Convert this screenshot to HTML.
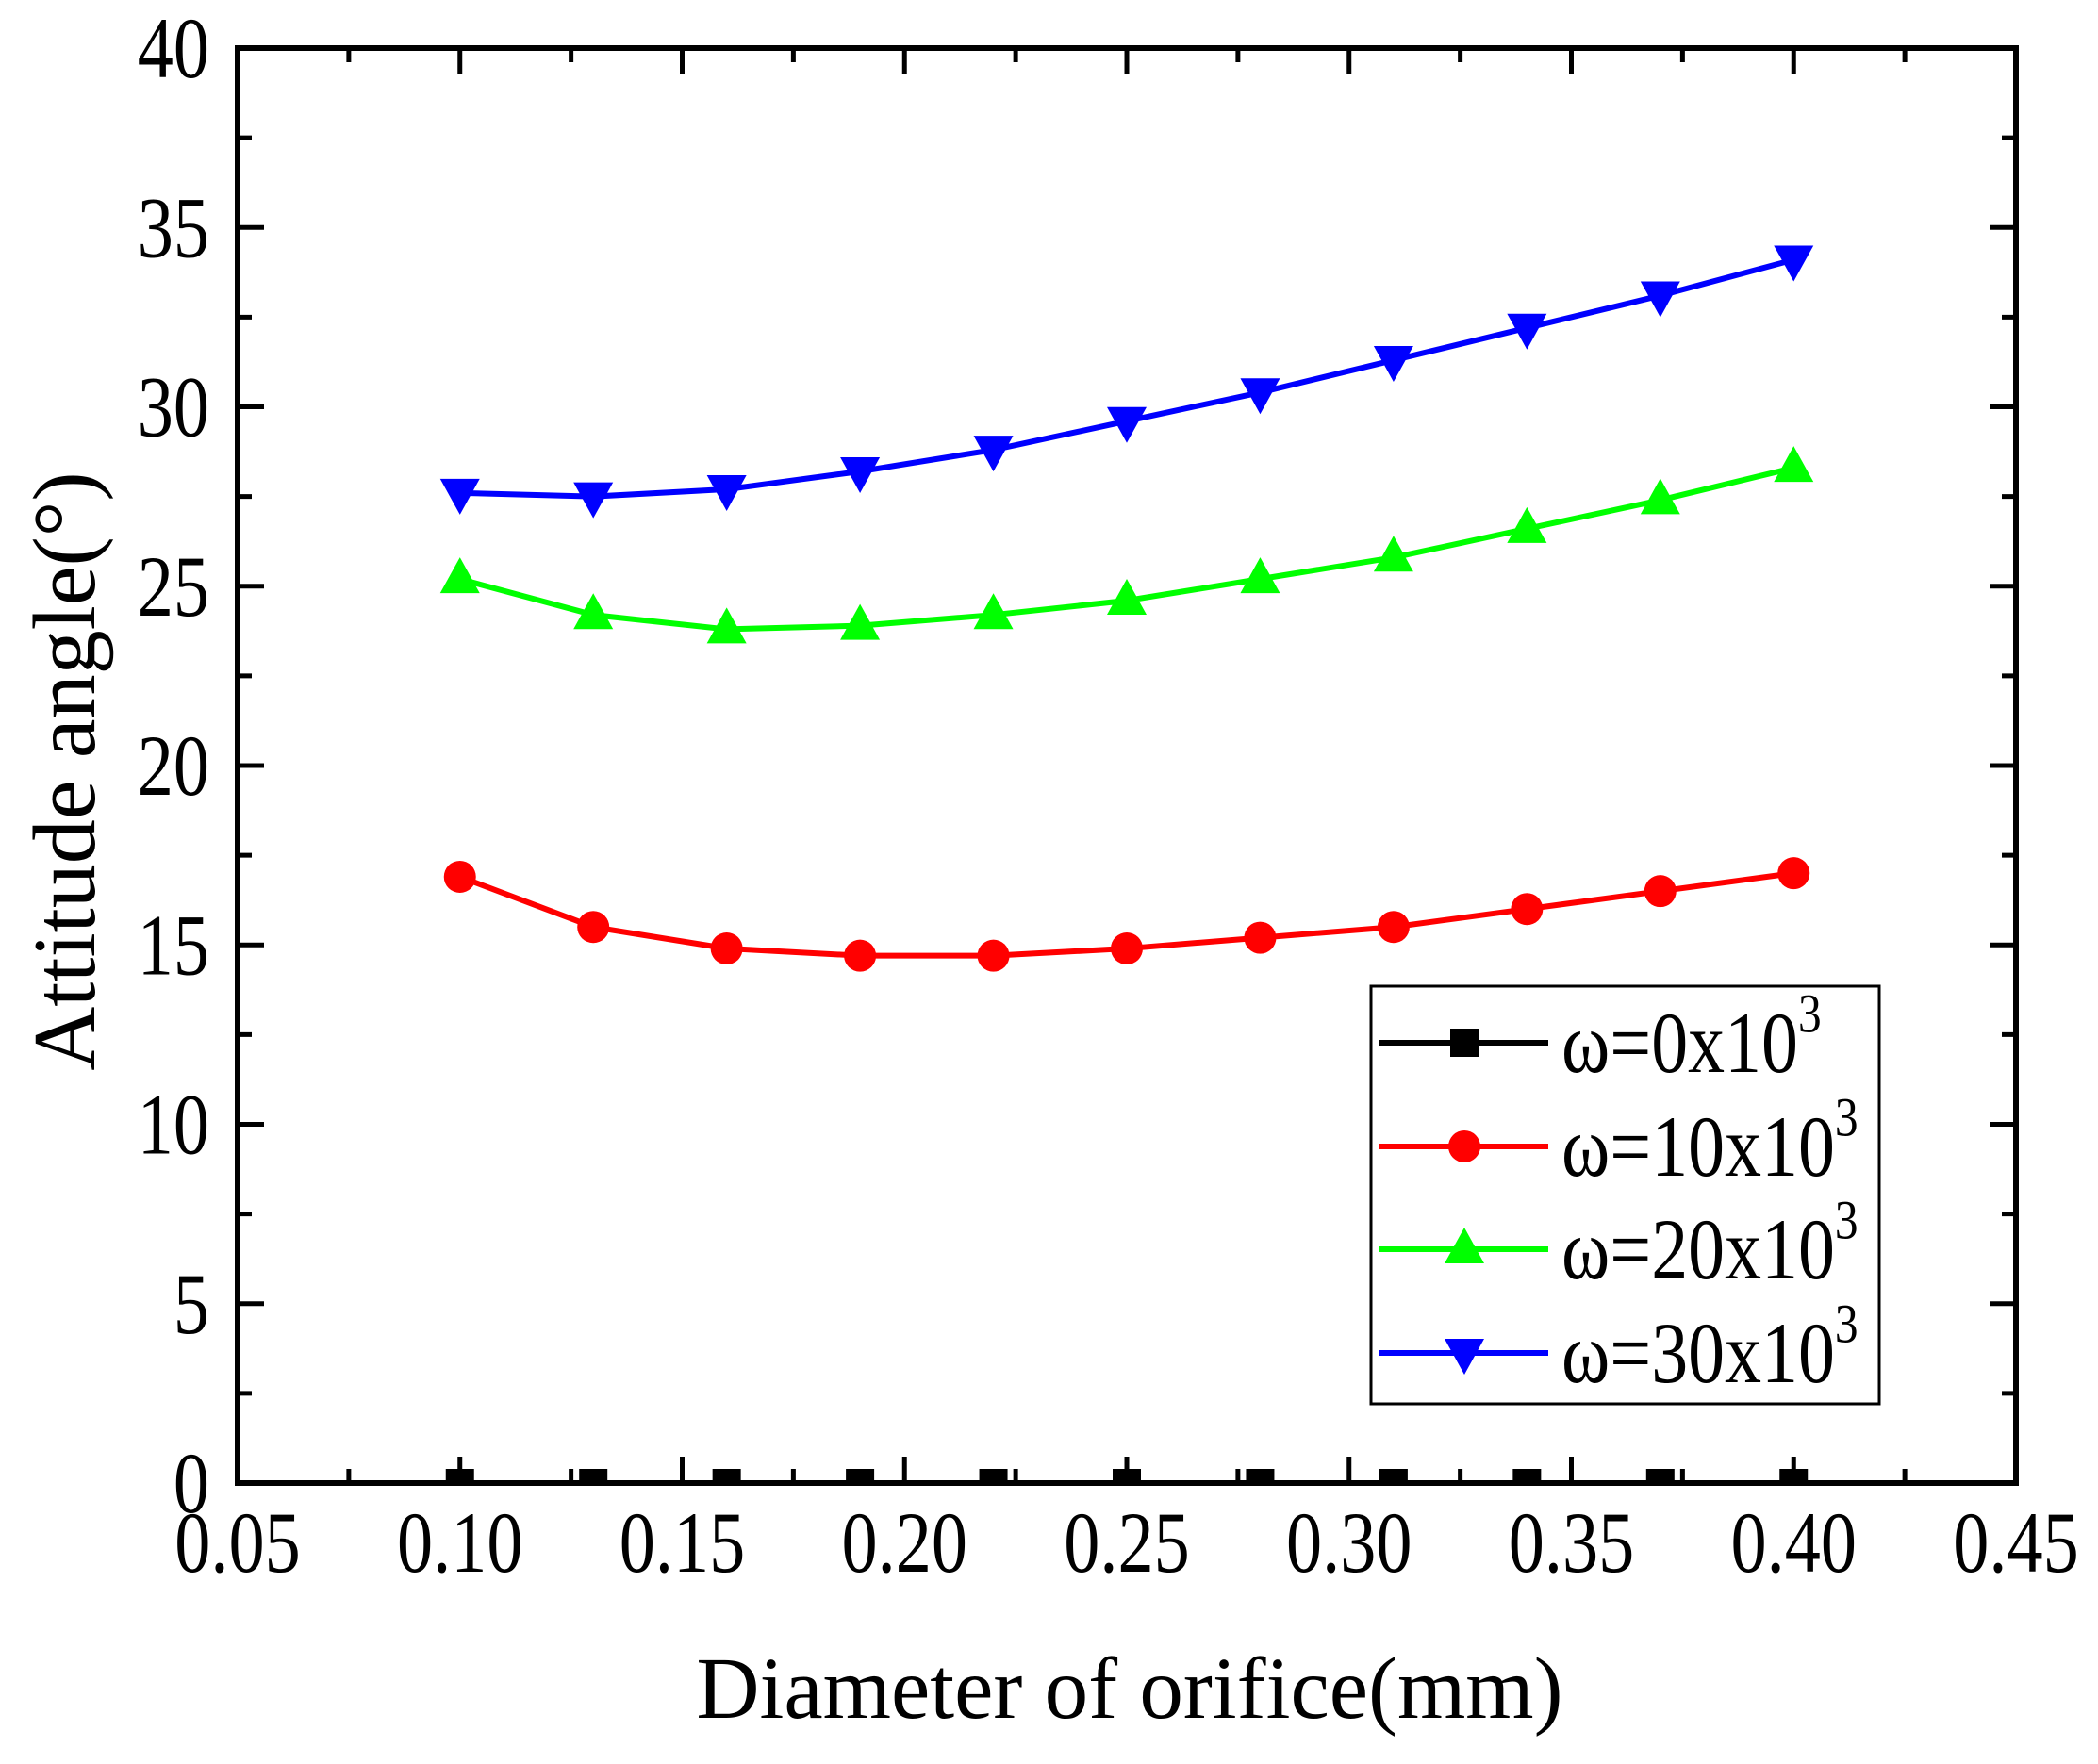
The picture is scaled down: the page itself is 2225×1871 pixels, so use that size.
<!DOCTYPE html>
<html><head><meta charset="utf-8"><style>
html,body{margin:0;padding:0;background:#fff;}
svg text{font-family:"Liberation Serif",serif;fill:#000;}
</style></head><body>
<svg id="chart" width="2225" height="1866" viewBox="0 0 2225 1866" xmlns="http://www.w3.org/2000/svg">
<defs><clipPath id="pc"><rect x="252" y="51" width="1886" height="1522"/></clipPath></defs>
<g id="plot"></g>
</svg>
<script>
const xValues=[0.10,0.13,0.16,0.19,0.22,0.25,0.28,0.31,0.34,0.37,0.40];
const seriesW0=[0,0,0,0,0,0,0,0,0,0,0];
const seriesW10=[16.9,15.5,14.9,14.7,14.7,14.9,15.2,15.5,16.0,16.5,17.0];
const seriesW20=[25.2,24.2,23.8,23.9,24.2,24.6,25.2,25.8,26.6,27.4,28.3];
const seriesW30=[27.6,27.5,27.7,28.2,28.8,29.6,30.4,31.3,32.2,33.1,34.1];
const xTicks=[0.05,0.10,0.15,0.20,0.25,0.30,0.35,0.40,0.45];
const xTickLabels=["0.05","0.10","0.15","0.20","0.25","0.30","0.35","0.40","0.45"];
const yTicks=[0,5,10,15,20,25,30,35,40];
const yTickLabels=["0","5","10","15","20","25","30","35","40"];
const legendLabels=["0","10","20","30"];

const L=252,R=2138,T=51,B=1573;
const xs=v=>L+(v-0.05)/(0.40)*(R-L);
const ys=v=>B-(v/40)*(B-T);
const NS="http://www.w3.org/2000/svg";
const g=document.getElementById('plot');
function mk(tag,attrs,parent){const e=document.createElementNS(NS,tag);for(const k in attrs)e.setAttribute(k,attrs[k]);(parent||g).appendChild(e);return e;}
function stretchedText(x,y,size,anchor,str,parent){
  const gg=mk('g',{transform:`translate(${x},${y}) scale(0.93,1.12)`},parent);
  const t=mk('text',{x:0,y:0,'font-size':size,'text-anchor':anchor},gg);
  t.textContent=str;
  return t;
}

xTicks.forEach((v,i)=>{
  const x=xs(v);
  let t=mk('line',{x1:x,x2:x,y1:B,y2:B-28,stroke:'#000','stroke-width':5});
  
  
  mk('line',{x1:x,x2:x,y1:T,y2:T+28,stroke:'#000','stroke-width':5});
  if(i<xTicks.length-1){const xm=xs(v+0.025);
    mk('line',{x1:xm,x2:xm,y1:B,y2:B-15,stroke:'#000','stroke-width':5});
    mk('line',{x1:xm,x2:xm,y1:T,y2:T+15,stroke:'#000','stroke-width':5});}
  const tx=stretchedText(x,1667,82,'middle',xTickLabels[i]);
  
  
});
yTicks.forEach((v,i)=>{
  const y=ys(v);
  let t=mk('line',{x1:L,x2:L+28,y1:y,y2:y,stroke:'#000','stroke-width':5});
  
  
  mk('line',{x1:R,x2:R-28,y1:y,y2:y,stroke:'#000','stroke-width':5});
  if(i<yTicks.length-1){const ym=ys(v+2.5);
    mk('line',{x1:L,x2:L+15,y1:ym,y2:ym,stroke:'#000','stroke-width':5});
    mk('line',{x1:R,x2:R-15,y1:ym,y2:ym,stroke:'#000','stroke-width':5});}
  const tx=stretchedText(222,y+31,82,'end',yTickLabels[i]);
  
  
});

function marker(type,x,y,color,parent){
  if(type==='sq') return mk('rect',{x:x-15,y:y-15,width:30,height:30,fill:color},parent);
  if(type==='ci') return mk('circle',{cx:x,cy:y,r:17,fill:color},parent);
  if(type==='up') return mk('polygon',{points:`${x},${y-23} ${x-21},${y+15} ${x+21},${y+15}`,fill:color},parent);
  return mk('polygon',{points:`${x-21},${y-15} ${x+21},${y-15} ${x},${y+23}`,fill:color},parent);
}
const series=[[seriesW0,'#000','sq','series-w0'],[seriesW10,'#f00','ci','series-w10'],[seriesW20,'#0f0','up','series-w20'],[seriesW30,'#00f','dn','series-w30']];
series.forEach(([vals,color,type,name])=>{
  const sg=mk('g',{'clip-path':'url(#pc)'});
  
  
  const pts=vals.map((v,i)=>xs(xValues[i])+','+ys(v)).join(' ');
  mk('polyline',{points:pts,fill:'none',stroke:color,'stroke-width':6},sg);
  vals.forEach((v,i)=>{const m=marker(type,xs(xValues[i]),ys(v),color,sg);
    
    });
});
const frame=mk('rect',{x:L,y:T,width:R-L,height:B-T,fill:'none',stroke:'#000','stroke-width':6});



const lg=mk('g',{});


mk('rect',{x:1454,y:1046,width:539,height:443,fill:'#fff',stroke:'#000','stroke-width':3},lg);
const ly=[1106,1216,1325,1435];
series.forEach(([vals,color,type,name],i)=>{
  const eg=mk('g',{},lg);
  
  
  mk('line',{x1:1462,x2:1642,y1:ly[i],y2:ly[i],stroke:color,'stroke-width':6},eg);
  marker(type,1553,ly[i],color,eg);
  const gg=mk('g',{transform:`translate(1656,${ly[i]+31}) scale(0.95,1.12)`},eg);
  const t=mk('text',{x:0,y:0,'font-size':82},gg);
  t.textContent='ω='+legendLabels[i]+'x10';
  const s=mk('tspan',{'font-size':52,dy:-38},t);
  s.textContent='3';
});

const xt=mk('text',{x:1198,y:1822,'font-size':93,'text-anchor':'middle'});
xt.textContent='Diameter of orifice(mm)';


const yt=mk('text',{x:0,y:0,'font-size':94,'text-anchor':'middle',transform:'translate(100,818) rotate(-90)'});
yt.textContent='Attitude angle(°)';


</script>
</body></html>
